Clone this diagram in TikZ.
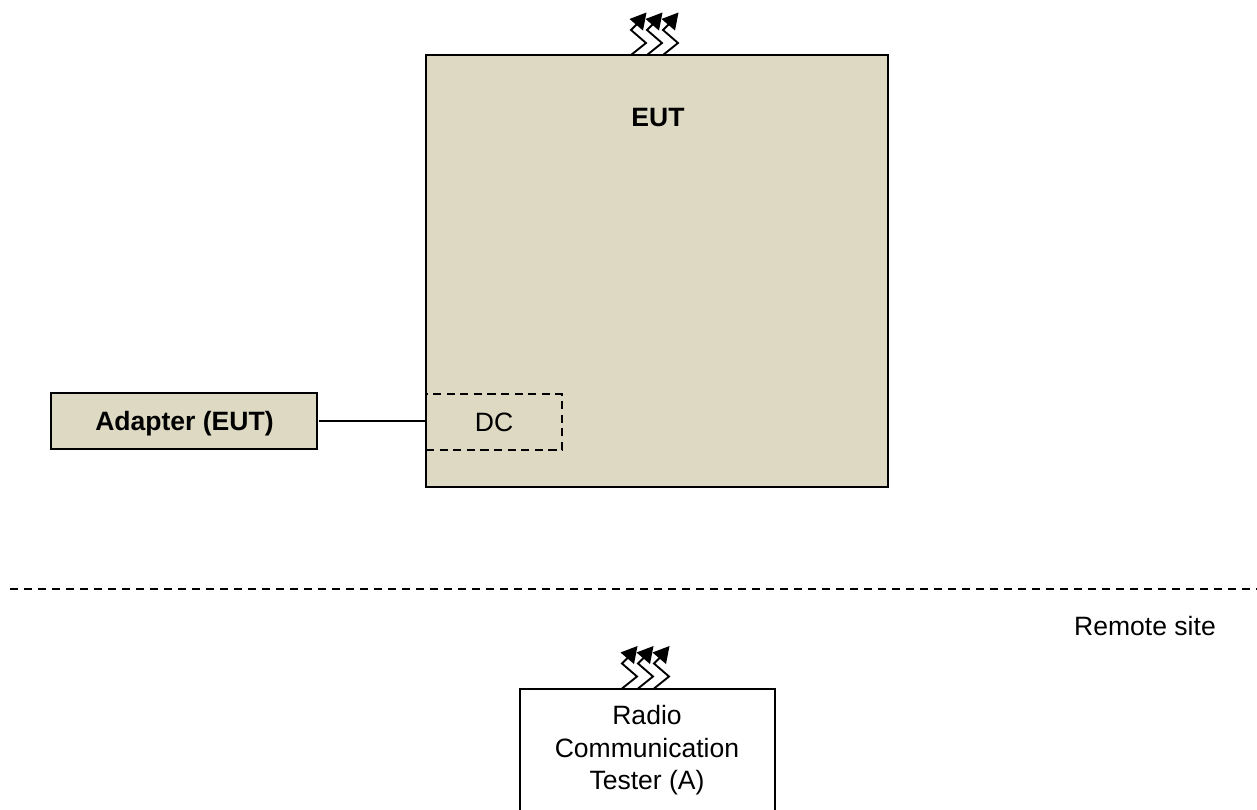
\documentclass[tikz,border=0pt]{standalone}
\usepackage{fontspec}
\setmainfont{Liberation Sans}
\definecolor{tan}{HTML}{DDD9C3}
\tikzset{
  px/.style={x=0.75pt,y=-0.75pt},
  solidbox/.style={draw=black,line width=1.4pt,inner sep=0pt,outer sep=0pt,anchor=north west},
  dashbox/.style={draw=black,line width=1.4pt,dash pattern=on 6.2pt off 4pt,inner sep=0pt,outer sep=0pt,anchor=north west},
  wire/.style={draw=black,line width=1.4pt},
  sep/.style={draw=black,line width=1.1pt,dash pattern=on 6.2pt off 4.3pt},
  lbl/.style={font=\fontsize{19.9}{24.4}\selectfont,align=center,text=black,inner sep=0pt},
  head/.style={fill=black,draw=none}
}
\newcommand{\waves}[2]{%
 \foreach \d in {0,16,32}{%
  \begin{scope}[shift={(#1+\d,#2)}]
   \draw[line width=1.4pt,line join=miter] (0,0) -- (15,-12) -- (0,-25) -- (6,-31);
   \fill[head] (-1.5,-36) -- (15.5,-42.5) -- (12,-24.5) -- cycle;
  \end{scope}}}
\begin{document}
\begin{tikzpicture}[px]
\clip (0,0) rectangle (1257,810);
\fill[white] (0,0) rectangle (1257,810);
\node[solidbox,fill=tan,minimum width=462*0.75pt,minimum height=432*0.75pt] (eut) at (426,55) {};
\node[lbl,font=\fontsize{19.9}{24.4}\selectfont\bfseries] (eutl) at (658,118) {EUT};
\node[dashbox,minimum width=136*0.75pt,minimum height=56*0.75pt] (dc) at (426,394) {};
\node[lbl] (dcl) at (494,422.5) {DC};
\node[solidbox,fill=tan,minimum width=266*0.75pt,minimum height=56*0.75pt] (adapter) at (51,393) {};
\node[lbl,font=\fontsize{19.9}{24.4}\selectfont\bfseries] (adl) at (184.5,423.5) {Adapter (EUT)};
\coordinate (wirestart) at (319,421);
\draw[wire] (wirestart) -- (wirestart -| eut.west);
\coordinate (sepl) at (10,589);
\coordinate (sepr) at (1257,589);
\draw[sep] (sepl) -- (sepr);
\node[lbl] (remote) at (1145,626) {Remote site};
\node[solidbox,minimum width=255*0.75pt,minimum height=140*0.75pt] (tester) at (520,689) {};
\node[lbl,anchor=north] (testerl) at (647,705) {Radio\\[0pt]Communication\\Tester (A)};
\waves{631}{55}
\waves{622}{688.5}
\end{tikzpicture}
\end{document}
